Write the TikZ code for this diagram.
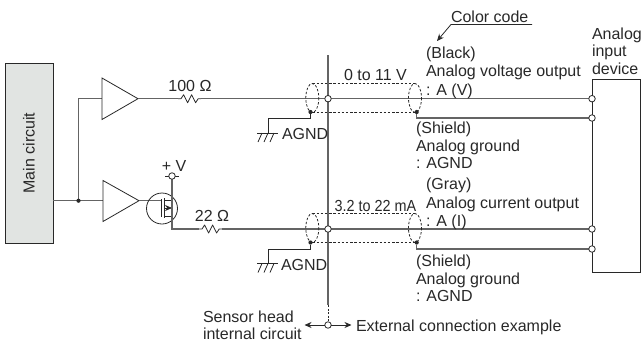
\documentclass[tikz,border=0pt]{standalone}
\usepackage{fontspec}
\setmainfont{Liberation Sans}
\usetikzlibrary{arrows.meta}
\definecolor{wire}{RGB}{100,100,100}
\definecolor{ink}{RGB}{40,40,40}
\tikzset{
  x=1pt,y=-1pt,
  wireline/.style={draw=wire,line width=1.1pt},
  thinline/.style={draw=ink,line width=0.8pt},
  shieldline/.style={draw=ink,line width=0.8pt,dash pattern=on 2.4pt off 1.8pt},
  txt/.style={inner sep=0pt,outer sep=0pt,text=ink,font=\fontsize{16pt}{18pt}\selectfont,anchor=base west},
  lbl/.style={txt,anchor=base},
  term/.style={circle,draw=ink,fill=white,line width=0.8pt,minimum size=6.5pt,inner sep=0pt,outer sep=0pt},
  jdot/.style={circle,fill=ink,minimum size=4.2pt,inner sep=0pt,outer sep=0pt},
  amp/.style={thinline,line join=miter,fill=white},
  tip/.style={-{Stealth[length=7pt,width=6pt]}},
}
\newcommand{\resistor}[2]{\draw[thinline,line join=round] (#1,#2) -- ++(3,0) -- ++(2.6,-4) -- ++(4,8) -- ++(4,-8) -- ++(4,8) -- ++(2.6,-4) -- ++(2.8,0);}
\begin{document}
\begin{tikzpicture}
\useasboundingbox (0,0) rectangle (643,343);
% main circuit
\node[draw=ink,line width=0.9pt,fill={rgb,255:red,225;green,228;blue,226},minimum width=48pt,minimum height=180pt,inner sep=0pt,outer sep=0pt] (main) at (29,153) {};
\node[lbl,anchor=center,rotate=90] (maintext) at (29,153) {Main circuit};
% coordinates
\coordinate (j) at (78.5,200.7);
\coordinate (t1) at (78.5,98.7);
\coordinate (a1in) at (102,98.7);
\coordinate (a1out) at (138,98.7);
\coordinate (a2in) at (103,200.7);
\coordinate (a2out) at (139,200.7);
\coordinate (r1a) at (178,98.7);
\coordinate (r1b) at (201,98.7);
\coordinate (r2a) at (199,229);
\coordinate (r2b) at (221.5,229);
\coordinate (dr) at (172,200);
\coordinate (so) at (172,216);
\coordinate (corner) at (172,229);
% input wiring
\draw[wireline] (main.east |- j) -- (a2in);
\draw[wireline] (j) -- (t1) -- (a1in);
\node[jdot] (jd) at (j) {};
% amps
\draw[amp] (102,78) -- (138,98.7) -- (102,119.5) -- cycle;
\draw[amp] (103,180.5) -- (139,200.7) -- (103,221.5) -- cycle;
% outputs
\draw[wireline] (a1out) -- (r1a);
\resistor{178}{98.7}
\draw[wireline] (a2out) -- (161.5,200.7);
% mosfet
\node[circle,draw=ink,line width=0.8pt,minimum size=31pt,inner sep=0pt] (fet) at (162,208.5) {};
\draw[thinline] (161.5,199) -- (161.5,216.5);
\draw[draw=ink,line width=1.1pt] (164.3,198) -- (164.3,217.5);
\draw[thinline] (164.3,200) -- (dr);
\draw[thinline] (164.3,216) -- (so);
\draw[thinline,tip] (164.3,208) -- (172,208);
\coordinate (vt) at (172,176);
\draw[wireline] (vt) -- (corner) -- (r2a);
\resistor{199}{229}
\draw[thinline] (165,176) -- (179,176);
\node[term] (vterm) at (vt) {};
\node[lbl] (vlab) at (174,171) {+ V};
\node[lbl] (r1l) at (190,91) {100 Ω};
\node[lbl] (r2l) at (212,221) {22 Ω};
% device
\draw[thinline] (640,272) -- (592,272) -- (592,79) -- (640,79) -- cycle;
% signal wires
\coordinate (s1) at (592,98.7);
\coordinate (s2) at (592,229);
\coordinate (g1) at (592,118);
\coordinate (g2) at (592,249);
\draw[wireline] (r1b) -- (s1);
\draw[wireline] (r2b) -- (s2);
% center vertical
\coordinate (vtop) at (328,55);
\coordinate (vbot) at (328,305);
\coordinate (vend) at (328,325);
\draw[wireline] (vtop) -- (vbot);
\draw[thinline,dash pattern=on 2pt off 1.5pt] (vbot) -- (vend);
% shields
\draw[shieldline] (312.3,83) -- (415,83) (312.3,112) -- (415,112);
\draw[shieldline] (312.3,98) ellipse [x radius=6.5,y radius=14.5];
\draw[shieldline] (415,98) ellipse [x radius=6.5,y radius=14.5];
\draw[shieldline] (312.3,213) -- (415,213) (312.3,242.5) -- (415,242.5);
\draw[shieldline] (312.3,228) ellipse [x radius=6.5,y radius=14.5];
\draw[shieldline] (415,228) ellipse [x radius=6.5,y radius=14.5];
% shield grounds
\node[jdot] (d1l) at (310.5,112) {};
\node[jdot] (d1r) at (416.7,112) {};
\node[jdot] (d2l) at (310.5,242.5) {};
\node[jdot] (d2r) at (416.7,242.5) {};
\draw[wireline] (d1r) |- (g1);
\draw[wireline] (d2r) |- (g2);
\draw[thinline] (d1l) |- (268,118) -- (268,133);
\draw[thinline] (d2l) |- (268,249) -- (268,263.5);
\draw[thinline] (257,133) -- (278,133);
\draw[thinline] (262,133) -- (258,142) (268,133) -- (264,142) (274,133) -- (270,142);
\draw[thinline] (257,263.5) -- (278,263.5);
\draw[thinline] (262,263.5) -- (258,272.5) (268,263.5) -- (264,272.5) (274,263.5) -- (270,272.5);
\node[txt] (ag1) at (282,139) {AGND};
\node[txt] (ag2) at (281,270) {AGND};
% terminals
\node[term] (c1) at (328,98.7) {};
\node[term] (c2) at (328,229) {};
\node[term] (d1) at (s1) {};
\node[term] (d2) at (s2) {};
\node[term] (d3) at (g1) {};
\node[term] (d4) at (g2) {};
\node[term] (c3) at (vend) {};
% arrows bottom
\coordinate (al) at (304.5,325);
\coordinate (ar) at (351.5,325);
\draw[thinline,tip] (c3) -- (al);
\draw[thinline,tip] (c3) -- (ar);
% labels
\node[lbl] (v1) at (375.5,80) {0 to 11 V};
\node[lbl] (v2) at (375.5,211) {\scalebox{0.9}[1]{3.2 to 22 mA}};
\node[txt] at (426,58) {(Black)};
\node[txt] at (426,76) {Analog voltage output};
\node[txt] at (426,95) {: A (V)};
\node[txt] at (416,133) {(Shield)};
\node[txt] at (416,151) {Analog ground};
\node[txt] at (416,168) {: AGND};
\node[txt] at (426,189) {(Gray)};
\node[txt] at (426,208) {Analog current output};
\node[txt] at (426,226) {: A (I)};
\node[txt] at (416,266) {(Shield)};
\node[txt] at (416,284) {Analog ground};
\node[txt] at (416,301) {: AGND};
\node[txt] (cc) at (451,22) {Color code};
\coordinate (cc0) at (532,24.5);
\coordinate (cc1) at (451,24.5);
\coordinate (cc2) at (437,41);
\draw[thinline,tip] (cc0) -- (cc1) -- (cc2);
\node[txt] at (592,39) {Analog};
\node[txt] at (592,56) {input};
\node[txt] at (592,74) {device};
\node[txt] at (203,322) {Sensor head};
\node[txt] at (203,339) {internal circuit};
\node[txt] at (356,331) {External connection example};
\end{tikzpicture}
\end{document}
